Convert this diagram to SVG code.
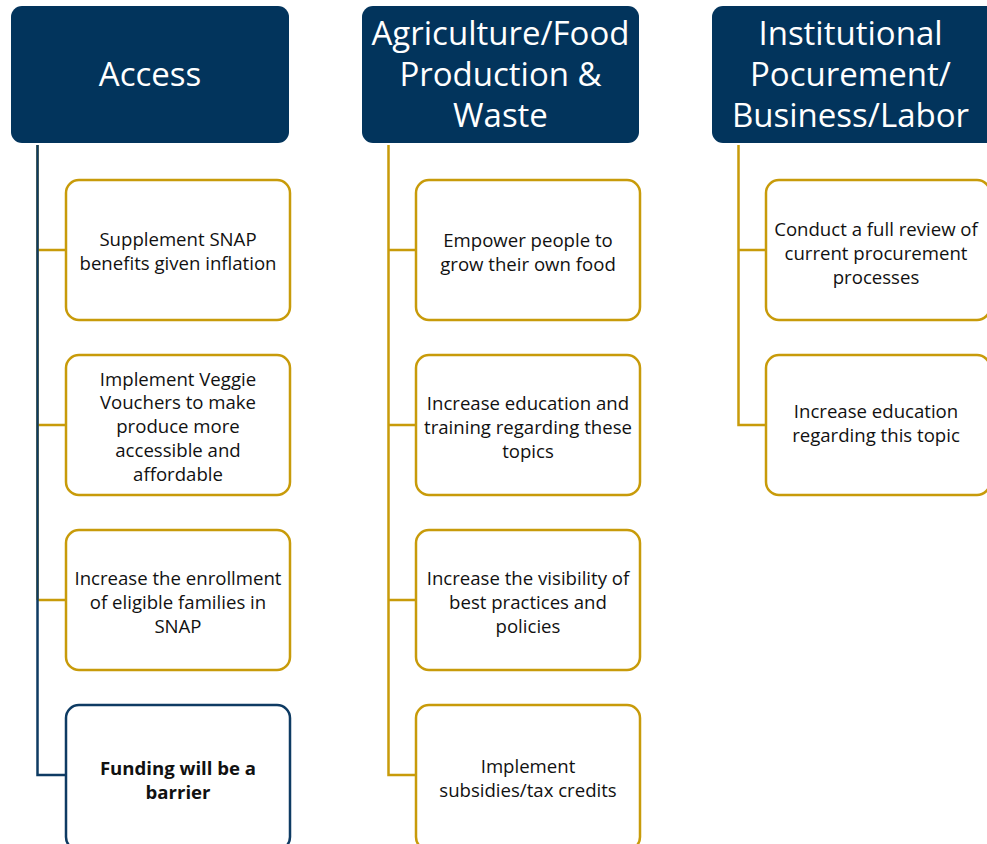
<svg xmlns="http://www.w3.org/2000/svg" width="987" height="844" viewBox="0 0 987 844">
<style>
.hdr{fill:#02345C}
.ht{fill:#fff;font-family:"Open Sans","Liberation Sans",sans-serif;font-size:33px;text-anchor:middle;dominant-baseline:central}
.box{fill:#fff;stroke:#C89B0A;stroke-width:2.5}
.bb{fill:#fff;stroke:#0E3B63;stroke-width:2.5}
.t{fill:#111;font-family:"Open Sans","Liberation Sans",sans-serif;font-size:18.6px;text-anchor:middle;dominant-baseline:central}
.b{font-weight:bold}
.g{fill:none;stroke:#C89B0A;stroke-width:2.5}
.n{fill:none;stroke:#0E3B63;stroke-width:2.5}
</style>
<g id="connectors">
<path class="g" d="M37.5 145V600M37.5 250H66M37.5 425H66M37.5 600H66"/>
<path class="n" d="M37.5 145V775H66"/>
<path class="g" d="M388.5 145V775H416M388.5 250H416M388.5 425H416M388.5 600H416"/>
<path class="g" d="M738.5 145V425H766M738.5 250H766"/>
</g>
<g id="h-access"><rect class="hdr" x="11" y="6" width="278" height="137" rx="11"/><text class="ht" x="150" y="73">Access</text></g>
<g id="h-ag"><rect class="hdr" x="362" y="6" width="277" height="137" rx="11"/><text class="ht" x="500.5"><tspan x="500.5" y="32">Agriculture/Food</tspan><tspan x="500.5" y="73">Production &amp;</tspan><tspan x="500.5" y="114">Waste</tspan></text></g>
<g id="h-inst"><rect class="hdr" x="712" y="6" width="287" height="137" rx="11"/><text class="ht" x="850.5"><tspan x="850.5" y="32">Institutional</tspan><tspan x="850.5" y="73">Pocurement/</tspan><tspan x="850.5" y="114">Business/Labor</tspan></text></g>
<g id="a1"><rect class="box" x="66" y="180" width="224" height="140" rx="13"/><text class="t"><tspan x="178" y="238">Supplement SNAP</tspan><tspan x="178" y="262">benefits given inflation</tspan></text></g>
<g id="a2"><rect class="box" x="66" y="355" width="224" height="140" rx="13"/><text class="t"><tspan x="178" y="378">Implement Veggie</tspan><tspan x="178" y="401">Vouchers to make</tspan><tspan x="178" y="425">produce more</tspan><tspan x="178" y="449">accessible and</tspan><tspan x="178" y="473">affordable</tspan></text></g>
<g id="a3"><rect class="box" x="66" y="530" width="224" height="140" rx="13"/><text class="t"><tspan x="178" y="577">Increase the enrollment</tspan><tspan x="178" y="601">of eligible families in</tspan><tspan x="178" y="625">SNAP</tspan></text></g>
<g id="a4"><rect class="bb" x="66" y="705" width="224" height="145" rx="13"/><text class="t b"><tspan x="178" y="767">Funding will be a</tspan><tspan x="178" y="791">barrier</tspan></text></g>
<g id="g1"><rect class="box" x="416" y="180" width="224" height="140" rx="13"/><text class="t"><tspan x="528" y="239">Empower people to</tspan><tspan x="528" y="263">grow their own food</tspan></text></g>
<g id="g2"><rect class="box" x="416" y="355" width="224" height="140" rx="13"/><text class="t"><tspan x="528" y="402">Increase education and</tspan><tspan x="528" y="426">training regarding these</tspan><tspan x="528" y="450">topics</tspan></text></g>
<g id="g3"><rect class="box" x="416" y="530" width="224" height="140" rx="13"/><text class="t"><tspan x="528" y="577">Increase the visibility of</tspan><tspan x="528" y="601">best practices and</tspan><tspan x="528" y="625">policies</tspan></text></g>
<g id="g4"><rect class="box" x="416" y="705" width="224" height="145" rx="13"/><text class="t"><tspan x="528" y="765">Implement</tspan><tspan x="528" y="789">subsidies/tax credits</tspan></text></g>
<g id="i1"><rect class="box" x="766" y="180" width="224" height="140" rx="13"/><text class="t"><tspan x="876" y="228">Conduct a full review of</tspan><tspan x="876" y="252">current procurement</tspan><tspan x="876" y="276">processes</tspan></text></g>
<g id="i2"><rect class="box" x="766" y="355" width="224" height="140" rx="13"/><text class="t"><tspan x="876" y="410">Increase education</tspan><tspan x="876" y="434">regarding this topic</tspan></text></g>
</svg>
